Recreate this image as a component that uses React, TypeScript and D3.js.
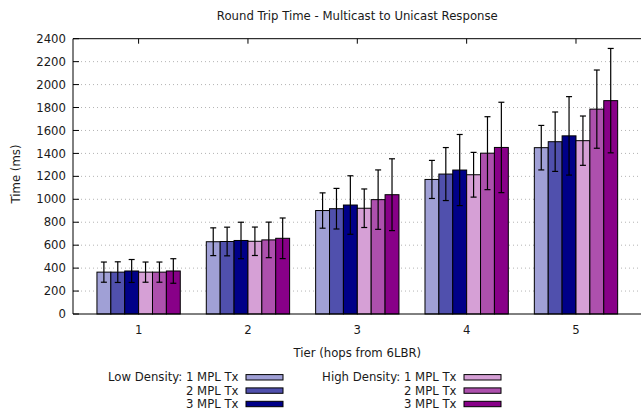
import React, { useEffect, useRef } from 'react';
import * as d3 from 'd3';

// round trip time per tier, mean +/- error
const tiers = [1, 2, 3, 4, 5];
const seriesNames = ['Low 1', 'Low 2', 'Low 3', 'High 1', 'High 2', 'High 3'];
const legendLabels = ['Low Density: 1 MPL Tx', '2 MPL Tx', '3 MPL Tx', 'High Density: 1 MPL Tx', '2 MPL Tx', '3 MPL Tx'];
const colors = ['#a0a0d6', '#5050ad', '#000088', '#d6a0d6', '#ad50ad', '#880088'];

const low1 = [365, 630, 902, 1173, 1450];
const low2 = [365, 632, 918, 1220, 1502];
const low3 = [375, 641, 950, 1255, 1553];
const high1 = [365, 634, 922, 1214, 1511];
const high2 = [365, 646, 997, 1402, 1786];
const high3 = [375, 660, 1040, 1452, 1860];

const low1Err = [88, 121, 154, 166, 194];
const low2Err = [90, 125, 177, 231, 259];
const low3Err = [100, 159, 255, 310, 342];
const high1Err = [88, 124, 168, 195, 215];
const high2Err = [88, 155, 259, 318, 341];
const high3Err = [107, 177, 313, 394, 455];

const yTicks = d3.range(0, 2401, 200);

const means = [low1, low2, low3, high1, high2, high3];
const errs = [low1Err, low2Err, low3Err, high1Err, high2Err, high3Err];

const W = 641;
const H = 414;
const FONT = 'DejaVu Sans, sans-serif';

export default function App() {
  const ref = useRef<SVGSVGElement>(null);

  useEffect(() => {
    const svg = d3.select(ref.current);
    svg.selectAll('*').remove();

    const left = 73, right = 641.6, top = 38.7, bottom = 314;
    const x = d3.scaleLinear().domain([0.4, 5.6]).range([left, right]);
    const y = d3.scaleLinear().domain([0, 2400]).range([bottom, top]);
    const groupW = 0.762; // fraction of a tier used by the 6 bars
    const band = d3.scaleBand<string>().domain(seriesNames).range([-groupW / 2, groupW / 2]);

    // grid
    svg.append('g').selectAll('line')
      .data(yTicks.filter((t) => t > 0 && t < 2400))
      .enter().append('line')
      .attr('x1', left).attr('x2', right)
      .attr('y1', (d) => y(d)).attr('y2', (d) => y(d))
      .attr('stroke', '#b4b4b4')
      .attr('stroke-width', 1)
      .attr('stroke-dasharray', '1,3');

    // ticks (inward, mirrored on top)
    const ticks = svg.append('g').attr('stroke', '#000').attr('stroke-width', 1);
    yTicks.forEach((t) => {
      ticks.append('line').attr('x1', left).attr('x2', left + 6).attr('y1', y(t)).attr('y2', y(t));
    });
    tiers.forEach((t) => {
      ticks.append('line').attr('x1', x(t)).attr('x2', x(t)).attr('y1', top).attr('y2', top + 5);
      ticks.append('line').attr('x1', x(t)).attr('x2', x(t)).attr('y1', bottom).attr('y2', bottom - 5);
    });

    // bars
    seriesNames.forEach((s, i) => {
      const g = svg.append('g');
      g.selectAll('rect')
        .data(tiers)
        .enter().append('rect')
        .attr('x', (t) => x(t + (band(s) as number)))
        .attr('width', x(band.bandwidth()) - x(0))
        .attr('y', (t, j) => y(means[i][j]))
        .attr('height', (t, j) => y(0) - y(means[i][j]))
        .attr('fill', colors[i])
        .attr('stroke', '#000')
        .attr('stroke-width', 1);
    });

    // error bars
    seriesNames.forEach((s, i) => {
      const g = svg.append('g').attr('stroke', '#000').attr('stroke-width', 1.2);
      tiers.forEach((t, j) => {
        const cx = x(t + (band(s) as number) + band.bandwidth() / 2);
        const hi = y(means[i][j] + errs[i][j]);
        const lo = y(means[i][j] - errs[i][j]);
        g.append('line').attr('x1', cx).attr('x2', cx).attr('y1', hi).attr('y2', lo);
        g.append('line').attr('x1', cx - 3).attr('x2', cx + 3).attr('y1', hi).attr('y2', hi);
        g.append('line').attr('x1', cx - 3).attr('x2', cx + 3).attr('y1', lo).attr('y2', lo);
      });
    });

    // border
    svg.append('path')
      .attr('d', `M${right},${top}H${left}V${bottom}H${right}`)
      .attr('fill', 'none')
      .attr('stroke', '#000')
      .attr('stroke-width', 1);

    const txt = svg.append('g').attr('font-family', FONT).attr('font-size', 11.7).attr('fill', '#1a1a1a');

    // y tick labels
    txt.selectAll('.yl')
      .data(yTicks)
      .enter().append('text')
      .attr('x', 66).attr('y', (d) => y(d))
      .attr('dy', '0.35em')
      .attr('text-anchor', 'end')
      .text((d) => d);

    // x tick labels
    txt.selectAll('.xl')
      .data(tiers)
      .enter().append('text')
      .attr('x', (d) => x(d)).attr('y', 330)
      .attr('dy', '0.35em')
      .attr('text-anchor', 'middle')
      .text((d) => d);

    txt.append('text')
      .attr('x', (left + right) / 2).attr('y', 15.7).attr('dy', '0.35em')
      .attr('text-anchor', 'middle')
      .text('Round Trip Time - Multicast to Unicast Response');

    txt.append('text')
      .attr('x', (left + right) / 2).attr('y', 352.7).attr('dy', '0.35em')
      .attr('text-anchor', 'middle')
      .text('Tier (hops from 6LBR)');

    txt.append('text')
      .attr('transform', 'translate(16,174) rotate(-90)')
      .attr('dy', '0.35em')
      .attr('text-anchor', 'middle')
      .text('Time (ms)');

    // legend, two columns of three
    const colTextRight = [238.5, 456.5];
    const rowY = [377.3, 390.6, 404];
    seriesNames.forEach((s, i) => {
      const col = Math.floor(i / 3);
      const row = i % 3;
      txt.append('text')
        .attr('x', colTextRight[col]).attr('y', rowY[row]).attr('dy', '0.35em')
        .attr('text-anchor', 'end')
        .text(legendLabels[i]);
      svg.append('rect')
        .attr('x', colTextRight[col] + 7.5).attr('y', rowY[row] - 2.7)
        .attr('width', 37).attr('height', 5.4)
        .attr('fill', colors[i])
        .attr('stroke', '#000')
        .attr('stroke-width', 1);
    });
  }, []);

  return (
    <svg ref={ref} width={W} height={H}
      style={{ position: 'absolute', left: 0, top: 0, background: '#fff' }} />
  );
}
